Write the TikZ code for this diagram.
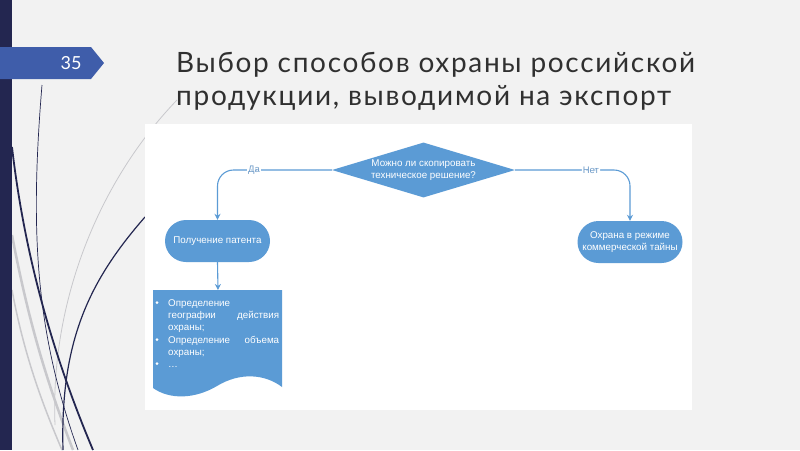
\documentclass[tikz,border=0pt]{standalone}
\usepackage{fontspec}
\setmainfont{Liberation Sans}
\newfontfamily\titlefont[LetterSpace=6]{Lato}
\newfontfamily\numfont{Lato}
\usetikzlibrary{shapes.geometric,arrows.meta}
\definecolor{bgc}{HTML}{F2F2F2}
\definecolor{navy}{HTML}{232650}
\definecolor{tabc}{HTML}{3F5DAA}
\definecolor{nodeblue}{HTML}{5B9BD5}
\definecolor{linkc}{HTML}{5B9BD5}
\definecolor{lblc}{HTML}{6E9BC8}
\definecolor{titlec}{HTML}{303030}
\definecolor{wispgray}{HTML}{C8C8CC}
\tikzset{
  flowfill/.style={fill=nodeblue, draw=none, text=white, font=\fontsize{9.8}{11.5}\selectfont},
  stadium/.style={flowfill, rectangle, rounded corners=21pt, minimum width=105pt, minimum height=42pt, align=center, inner sep=0pt},
  link/.style={draw=linkc, line width=1.1pt, rounded corners=16pt, -{Stealth[length=6pt,width=6pt]}},
  lbl/.style={fill=white, text=lblc, inner sep=1pt, font=\fontsize{9.5}{10}\selectfont},
  doctext/.style={text=white, anchor=base west, inner sep=0pt, font=\fontsize{9.8}{11}\selectfont},
  darkwisp/.style={draw=navy},
  graywisp/.style={draw=wispgray}
}
\begin{document}
\begin{tikzpicture}[x=1pt,y=-1pt]
\useasboundingbox (0,0) rectangle (800,450);
\fill[bgc] (0,0) rectangle (800,450);
% decorative curves
\draw[graywisp, line width=0.8pt] (177,100) .. controls (100,180) and (50,300) .. (55,425);
\draw[graywisp, line width=2.5pt] (12,235) .. controls (30,330) and (50,390) .. (73,450);
\draw[graywisp, line width=1.5pt] (12,290) .. controls (25,360) and (45,410) .. (62,450);
\draw[darkwisp, line width=0.7pt] (42,85) .. controls (30,230) and (35,330) .. (78,450);
\draw[darkwisp, line width=1.8pt] (12,147) .. controls (25,260) and (55,360) .. (93,450);
\draw[darkwisp, line width=1.2pt] (145,217) .. controls (90,280) and (60,340) .. (63,450);
% left bar and number tab
\fill[navy] (0,0) rectangle (12,450);
\fill[tabc] (0,47) -- (91,47) -- (104,63) -- (91,79) -- (0,79) -- cycle;
\node[text=white, font=\numfont\fontsize{18}{18}\selectfont] (num) at (71,63) {35};
% title
\node[anchor=north west, text=titlec, align=left, inner sep=0pt,
      font=\titlefont\fontsize{28}{33}\selectfont] (title) at (176,52)
  {Выбор способов охраны российской\\продукции, выводимой на экспорт};
% panel
\fill[white] (145,124) rectangle (692,410);
% diamond
\node[diamond, flowfill, aspect=3.33, minimum width=183pt, minimum height=55pt, inner sep=0pt, align=center] (d) at (423.5,170)
  {Можно ли скопировать\\техническое решение?};
% stadiums
\node[stadium] (p) at (217.5,241) {Получение патента};
\node[stadium] (s) at (630,242) {Охрана в режиме\\коммерческой тайны};
% document shape
\fill[nodeblue] (153,290) -- (282,290) -- (282,387)
  .. controls (265,374) and (240,372) .. (217,386)
  .. controls (195,399) and (170,400) .. (153,388) -- cycle;
\coordinate (doc) at (218,290);
\foreach \yy in {302.5,339.5,363.5} { \fill[white] (157,\yy) circle (1.5pt); }
\node[doctext] (l1) at (168,306) {Определение};
\node[doctext] (l2) at (168,318.5) {\makebox[111pt][s]{географии действия}};
\node[doctext] (l3) at (168,330.5) {охраны;};
\node[doctext] (l4) at (168,343) {\makebox[111pt][s]{Определение объема}};
\node[doctext] (l5) at (168,355) {охраны;};
\node[doctext] (l6) at (168,367) {\dots};
% connectors
\draw[link] (d.west) -| node[lbl, pos=0.34] {Да} (p.north);
\draw[link] (d.east) -| node[lbl, pos=0.33] {Нет} (s.north);
\draw[link] (p.south) -- (doc);
\end{tikzpicture}
\end{document}
